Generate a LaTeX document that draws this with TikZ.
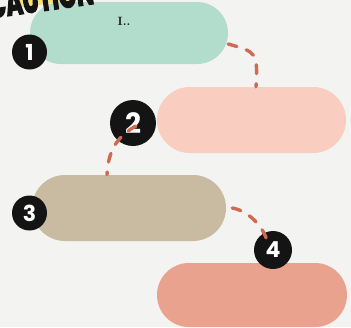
\documentclass[tikz,border=0pt]{standalone}
\usepackage{fontspec}
\newfontfamily\numfont{Poppins}
\newfontfamily\titlefont[FakeStretch=0.6, BoldFeatures={FakeBold=3}]{Poppins}
\definecolor{bgc}{HTML}{F3F3F1}
\definecolor{boxgreen}{HTML}{B2DCCB}
\definecolor{boxpink}{HTML}{F9CDBF}
\definecolor{boxtan}{HTML}{C9BBA1}
\definecolor{boxsalmon}{HTML}{E8A28D}
\definecolor{connc}{HTML}{CF6B52}
\definecolor{blk}{HTML}{141414}
\definecolor{hlyellow}{HTML}{F5E07A}
\tikzset{
  box/.style={draw=none, rounded corners=31pt, inner sep=0pt},
  numcirc/.style={circle, fill=blk, text=white, inner sep=0pt, font=\numfont\bfseries},
  conn/.style={draw=connc, line width=3.4pt, line cap=round, dash pattern=on 9pt off 10pt},
}
\begin{document}
\begin{tikzpicture}[x=1pt,y=-1pt]
\useasboundingbox (0,0) rectangle (351,327);
\fill[bgc] (0,0) rectangle (351,327);
% boxes
\node[box, fill=boxgreen, minimum width=198pt, minimum height=62pt] (b1) at (129,33) {};
\node[font=\bfseries\fontsize{12}{12}\selectfont, text=blk] (t1) at (124,21) {I..};
\node[box, fill=boxpink, minimum width=189pt, minimum height=66pt, rounded corners=33pt] (b2) at (251.5,120) {};
\node[box, fill=boxtan, minimum width=194pt, minimum height=66pt, rounded corners=33pt] (b3) at (129,208) {};
\node[box, fill=boxsalmon, minimum width=190pt, minimum height=64pt, rounded corners=32pt] (b4) at (252,295) {};
% title (cut by the top edge)
\begin{scope}
\clip (0,0) rectangle (351,327);
\fill[hlyellow, rotate around={8:(60,5)}] (18,-20) rectangle (104,2);
\node[anchor=base west, rotate=8, inner sep=0pt, font=\titlefont\bfseries\fontsize{38}{38}\selectfont, text=blk] (title) at (-10,18.5) {CAUTION};
\end{scope}
% number circles
\node[numcirc, minimum size=35pt, font=\numfont\bfseries\fontsize{22}{22}\selectfont] (n1) at (29.5,52) {1};
\node[numcirc, minimum size=46pt, font=\numfont\bfseries\fontsize{28}{28}\selectfont] (n2) at (133,123) {2};
\node[numcirc, minimum size=35pt, font=\numfont\bfseries\fontsize{22}{22}\selectfont] (n3) at (29.5,213) {3};
\node[numcirc, minimum size=38pt, font=\numfont\bfseries\fontsize{22}{22}\selectfont] (n4) at (273,250) {4};
% connectors
\draw[conn] ([yshift=-11pt]b1.east) .. controls +(28,8) and +(2,-35) .. ([xshift=4.5pt]b2.north);
\draw[conn] ([xshift=3pt,yshift=-3pt]n2.center) .. controls +(-22,12) and +(1,-20) .. ([xshift=-22pt]b3.north);
\draw[conn] ([xshift=6pt]b3.east) .. controls +(18,3) and +(-2,-15) .. ([xshift=-5pt,yshift=5pt]n4.center);
\end{tikzpicture}
\end{document}
